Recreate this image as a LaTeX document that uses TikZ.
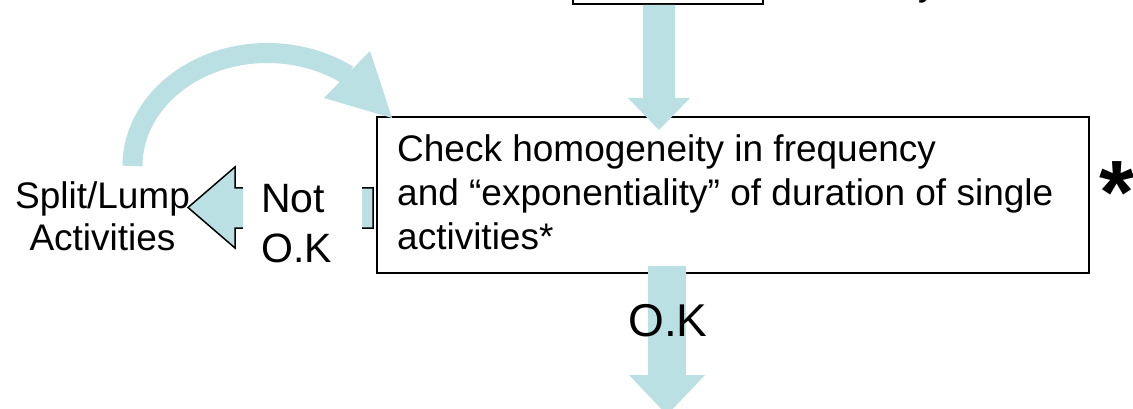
\documentclass[tikz,border=0pt]{standalone}
\usepackage{fontspec}
\setmainfont{Liberation Sans}
\definecolor{arrowblue}{RGB}{187,224,227}
\begin{document}
\begin{tikzpicture}[x=1pt,y=-1pt,
  boxline/.style={draw=black,line width=1.8pt,fill=white,inner sep=0pt},
  blockfill/.style={fill=arrowblue,draw=none},
  outlinearrow/.style={fill=arrowblue,draw=black,line width=1.5pt,line join=miter},
  bodytext/.style={inner sep=0pt,font=\fontsize{37}{44}\selectfont},
  bigtext/.style={inner sep=0pt,font=\fontsize{41}{50}\selectfont}]
\clip (0,0) rectangle (1133,409);
\fill[white] (0,0) rectangle (1133,409);

% top box (mostly above the page)
\node[boxline,minimum width=190pt,minimum height=80pt,anchor=south west] (top) at (572,5) {};
\node[bodytext,anchor=base west] (toptext) at (918,-4) {y};

% main box
\node[boxline,minimum width=712pt,minimum height=156pt,anchor=north west] (main) at (376,116) {};
\node[bodytext,anchor=base west,align=left] (maintext) at (397,249)
  {Check homogeneity in frequency\\and “exponentiality” of duration of single\\activities*};

% star
\node[inner sep=0pt,font=\fontsize{90}{90}\selectfont\bfseries,anchor=base] (star) at (1117,223) {*};

% top block arrow into main box
\coordinate (ta) at (659,5);
\fill[blockfill] (ta) ++(-16,0) -- ++(0,93) -- ++(-15,0) -- (659,130) -- ++(31,-32) -- ++(-15,0) -- ++(0,-93) -- cycle;

% bottom block arrow out of main box
\coordinate (ba) at (667.5,266);
\fill[blockfill] (ba) ++(-19.5,0) -- ++(0,109) -- ++(-19,0) -- (667,415) -- ++(38,-40) -- ++(-19,0) -- ++(0,-109) -- cycle;
\node[inner sep=0pt,font=\fontsize{46}{50}\selectfont,anchor=base] (ok) at (668,336) {O.K};

% split/lump
\node[inner sep=0pt,align=center,font=\fontsize{37}{42}\selectfont,anchor=base] (split) at (102.5,250) {Split/Lump\\Activities};

% curved arrow from split back to main box
\coordinate (tail) at (132.5,166);
\draw[arrowblue,line width=20pt] (tail) arc (180:306.6:135 and 113) coordinate (arcend);
\fill[blockfill] (370,51) -- (392,118) -- (324,98) -- cycle;

% left outlined block arrow (Not O.K)
\draw[outlinearrow] (373,188) -- (235,188) -- (235,167) -- (188,207.5) -- (235,248) -- (235,228) -- (373,228) -- cycle;
\node[fill=white,inner sep=0pt,minimum width=119pt,minimum height=110pt,anchor=west] (notokbg) at (243,215) {};
\node[bigtext,align=left,anchor=base west] (notok) at (261,262) {Not\\O.K};
\end{tikzpicture}
\end{document}
